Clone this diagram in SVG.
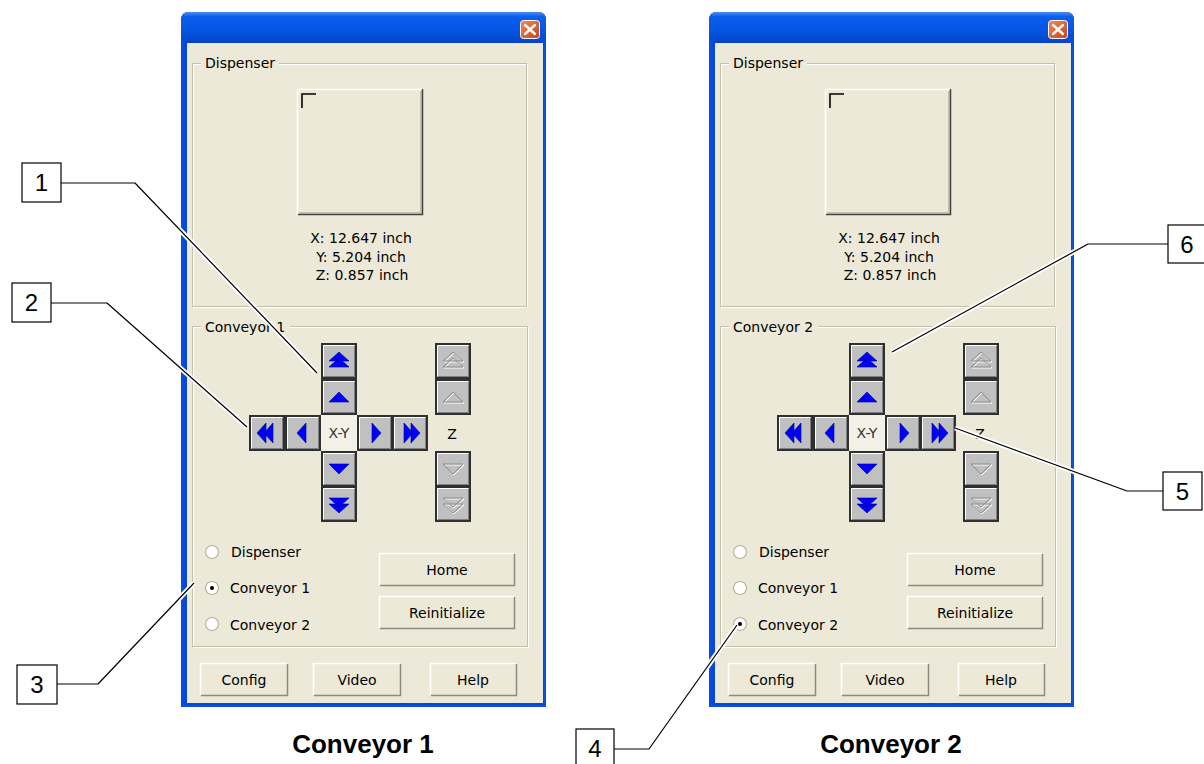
<svg xmlns="http://www.w3.org/2000/svg" xmlns:xlink="http://www.w3.org/1999/xlink" width="1204" height="764" viewBox="0 0 1204 764">
<style>
.ui{font-family:"DejaVu Sans",Verdana,sans-serif;font-size:14px;fill:#000}
.cap{font-family:"Liberation Sans",Arial,sans-serif;font-size:26px;font-weight:bold;fill:#000;text-anchor:middle}
.num{font-family:"Liberation Sans",Arial,sans-serif;font-size:24px;fill:#000;text-anchor:middle}
.ar{fill:#0000ff;stroke:#00007a;stroke-width:0.6;stroke-linejoin:round}
.dz{fill:none;stroke:#8c8c8c;stroke-width:1}
.dzh{fill:none;stroke:#ffffff;stroke-width:1}
.gb{fill:none;stroke:#c2bfae;stroke-width:1}
.gbw{fill:none;stroke:#ffffff;stroke-width:1}
.halo{fill:none;stroke:#ffffff;stroke-width:5;stroke-linejoin:round}
.ln{fill:none;stroke:#000;stroke-width:1.2;stroke-linejoin:round}
.box{fill:#fff;stroke:#000;stroke-width:1.2}
.c{text-anchor:middle}
</style>
<defs>
<linearGradient id="tb" x1="0" y1="0" x2="0" y2="1">
<stop offset="0" stop-color="#4a8cf6"/>
<stop offset="0.15" stop-color="#0c5ee9"/>
<stop offset="0.6" stop-color="#0356e4"/>
<stop offset="1" stop-color="#0444c6"/>
</linearGradient>
<linearGradient id="cl" x1="0" y1="0" x2="1" y2="1">
<stop offset="0" stop-color="#f08a60"/>
<stop offset="1" stop-color="#c8401c"/>
</linearGradient>
<g id="ab">
<rect x="0" y="0" width="36" height="36" fill="#303030"/>
<rect x="2" y="2" width="32" height="32" fill="#c0c0c0"/>
<path d="M2.5,33 V2.5 H33" fill="none" stroke="#ffffff" stroke-width="1"/>
<path d="M3,33.5 H33.5 V3" fill="none" stroke="#808080" stroke-width="1"/>
</g>
<g id="win">
<path d="M181,707 V20 Q181,12 189,12 H538 Q546,12 546,20 V707 Z" fill="#0a4fe0"/>
<rect x="181" y="12" width="365" height="31" rx="7" fill="url(#tb)"/>
<path d="M183,43 H544 V705 H183 Z" fill="#0848d8"/>
<rect x="187" y="43" width="356" height="660" fill="#ece9d8"/>
<rect x="520.5" y="20.5" width="19" height="18" rx="3" fill="url(#cl)" stroke="#ffffff" stroke-width="1"/>
<path d="M525,25 L535,34 M535,25 L525,34" stroke="#ffffff" stroke-width="2.4" stroke-linecap="round"/>
<rect x="193.5" y="64.5" width="334" height="243" class="gbw"/>
<rect x="192.5" y="63.5" width="334" height="243" class="gb"/>
<rect x="201" y="55" width="78" height="14" fill="#ece9d8"/>
<text x="205" y="68" class="ui">Dispenser</text>
<rect x="297" y="89" width="126" height="126" fill="#ece9d8"/>
<path d="M297.5,214 V89.5 H422" fill="none" stroke="#ffffff" stroke-width="1.5"/>
<path d="M298,214.5 H422.5 V89" fill="none" stroke="#404040" stroke-width="1.5"/>
<path d="M299,213 H421 V91" fill="none" stroke="#9a978a" stroke-width="1"/>
<path d="M302,108 V94 H316" fill="none" stroke="#000" stroke-width="1.6"/>
<text x="361" y="243" class="ui c">X: 12.647 inch</text>
<text x="361" y="262" class="ui c">Y: 5.204 inch</text>
<text x="362" y="280" class="ui c">Z: 0.857 inch</text>
<rect x="193.5" y="327.5" width="335" height="320" class="gbw"/>
<rect x="192.5" y="326.5" width="335" height="320" class="gb"/>
<g transform="translate(249,415)"><use xlink:href="#ab"/><path class="ar" d="M8,18 L17,8 L17,28 Z M15,18 L24,8 L24,28 Z"/></g>
<g transform="translate(285,415)"><use xlink:href="#ab"/><path class="ar" d="M12,18 L21,8 L21,28 Z"/></g>
<rect x="321" y="415" width="36" height="36" fill="#f3f1e7"/>
<text x="339" y="438" class="ui c" style="fill:#333">X-Y</text>
<g transform="translate(357,415)"><use xlink:href="#ab"/><path class="ar" d="M24,18 L15,8 L15,28 Z"/></g>
<g transform="translate(392,415)"><use xlink:href="#ab"/><path class="ar" d="M28,18 L19,8 L19,28 Z M21,18 L12,8 L12,28 Z"/></g>
<g transform="translate(321,343)"><use xlink:href="#ab"/><path class="ar" d="M8,18 L28,18 L18,9 Z M8,24 L28,24 L18,15 Z"/></g>
<g transform="translate(321,379)"><use xlink:href="#ab"/><path class="ar" d="M8,23 L28,23 L18,13 Z"/></g>
<g transform="translate(321,451)"><use xlink:href="#ab"/><path class="ar" d="M8,13 L28,13 L18,23 Z"/></g>
<g transform="translate(321,486)"><use xlink:href="#ab"/><path class="ar" d="M8,12 L28,12 L18,21 Z M8,18 L28,18 L18,27 Z"/></g>
<text x="452" y="439" class="ui c">Z</text>
<g transform="translate(435,343)"><use xlink:href="#ab"/><path class="dzh" d="M9,19 L29,19 L19,10 Z M9,25 L29,25 L19,16 Z"/><path class="dz" d="M8,18 L28,18 L18,9 Z M8,24 L28,24 L18,15 Z"/></g>
<g transform="translate(435,379)"><use xlink:href="#ab"/><path class="dzh" d="M9,24 L29,24 L19,14 Z"/><path class="dz" d="M8,23 L28,23 L18,13 Z"/></g>
<g transform="translate(435,451)"><use xlink:href="#ab"/><path class="dzh" d="M9,14 L29,14 L19,24 Z"/><path class="dz" d="M8,13 L28,13 L18,23 Z"/></g>
<g transform="translate(435,486)"><use xlink:href="#ab"/><path class="dzh" d="M9,13 L29,13 L19,22 Z M9,19 L29,19 L19,28 Z"/><path class="dz" d="M8,12 L28,12 L18,21 Z M8,18 L28,18 L18,27 Z"/></g>
<circle cx="212" cy="552" r="6.5" fill="#ffffff" stroke="#b5b2a4" stroke-width="1.2"/>
<circle cx="212" cy="588" r="6.5" fill="#ffffff" stroke="#b5b2a4" stroke-width="1.2"/>
<circle cx="212" cy="624" r="6.5" fill="#ffffff" stroke="#b5b2a4" stroke-width="1.2"/>
<text x="231" y="557" class="ui">Dispenser</text>
<text x="230" y="593" class="ui">Conveyor 1</text>
<text x="230" y="630" class="ui">Conveyor 2</text>
<rect x="379" y="553" width="136" height="33" fill="#ece9d8"/>
<path d="M379.5,585 V553.5 H514" fill="none" stroke="#ffffff" stroke-width="1.5"/>
<path d="M380,585.5 H514.5 V554" fill="none" stroke="#8e8b7e" stroke-width="1.5"/>
<text x="447" y="575" class="ui c">Home</text>
<rect x="379" y="596" width="136" height="33" fill="#ece9d8"/>
<path d="M379.5,628 V596.5 H514" fill="none" stroke="#ffffff" stroke-width="1.5"/>
<path d="M380,628.5 H514.5 V597" fill="none" stroke="#8e8b7e" stroke-width="1.5"/>
<text x="447" y="618" class="ui c">Reinitialize</text>
<rect x="200" y="663" width="88" height="33" fill="#ece9d8"/>
<path d="M200.5,695 V663.5 H287" fill="none" stroke="#ffffff" stroke-width="1.5"/>
<path d="M201,695.5 H287.5 V664" fill="none" stroke="#8e8b7e" stroke-width="1.5"/>
<text x="244" y="685" class="ui c">Config</text>
<rect x="313" y="663" width="88" height="33" fill="#ece9d8"/>
<path d="M313.5,695 V663.5 H400" fill="none" stroke="#ffffff" stroke-width="1.5"/>
<path d="M314,695.5 H400.5 V664" fill="none" stroke="#8e8b7e" stroke-width="1.5"/>
<text x="357" y="685" class="ui c">Video</text>
<rect x="430" y="663" width="87" height="33" fill="#ece9d8"/>
<path d="M430.5,695 V663.5 H516" fill="none" stroke="#ffffff" stroke-width="1.5"/>
<path d="M431,695.5 H516.5 V664" fill="none" stroke="#8e8b7e" stroke-width="1.5"/>
<text x="473" y="685" class="ui c">Help</text>
</g>
</defs>

<g id="window-conveyor1">
<use xlink:href="#win"/>
<rect x="201" y="319" width="89" height="14" fill="#ece9d8"/>
<text x="205" y="332" class="ui">Conveyor 1</text>
<circle cx="212" cy="588" r="2" fill="#000"/>
</g>

<g id="window-conveyor2" transform="translate(528,0)">
<use xlink:href="#win"/>
<rect x="201" y="319" width="89" height="14" fill="#ece9d8"/>
<text x="205" y="332" class="ui">Conveyor 2</text>
<circle cx="212" cy="624" r="2" fill="#000"/>
</g>

<g id="caption1"><text x="363" y="753" class="cap">Conveyor 1</text></g>
<g id="caption2"><text x="891" y="753" class="cap">Conveyor 2</text></g>

<g id="connectors">
<path class="halo" d="M135,183 L317,373"/>
<path class="halo" d="M107,303 L247,427"/>
<path class="halo" d="M98,684 L194,583"/>
<path class="halo" d="M649,749 L737,625"/>
<path class="halo" d="M1127,491 L955,428"/>
<path class="halo" d="M1088,244 L892,352"/>
<path class="ln" d="M61,183 H135 L317,373"/>
<path class="ln" d="M51,303 H107 L247,427"/>
<path class="ln" d="M57,684 H98 L194,583"/>
<path class="ln" d="M614,749 H649 L737,625"/>
<path class="ln" d="M1163,491 H1127 L955,428"/>
<path class="ln" d="M1168,244 H1088 L892,352"/>
</g>

<g id="callout1"><rect class="box" x="22" y="163" width="39" height="39"/><text x="41.5" y="191" class="num">1</text></g>
<g id="callout2"><rect class="box" x="12" y="283" width="39" height="39"/><text x="31.5" y="311" class="num">2</text></g>
<g id="callout3"><rect class="box" x="17" y="665" width="40" height="39"/><text x="37" y="693" class="num">3</text></g>
<g id="callout4"><rect class="box" x="576" y="729" width="38" height="40"/><text x="595" y="757" class="num">4</text></g>
<g id="callout5"><rect class="box" x="1163" y="472" width="39" height="38"/><text x="1182.5" y="500" class="num">5</text></g>
<g id="callout6"><rect class="box" x="1168" y="225" width="38" height="38"/><text x="1187" y="253" class="num">6</text></g>
</svg>
